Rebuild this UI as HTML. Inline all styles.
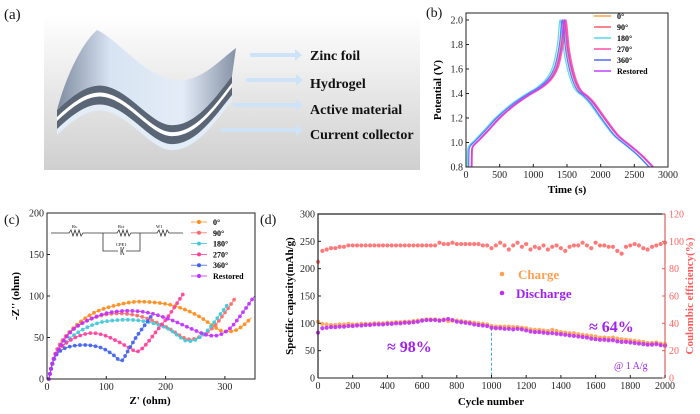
<!DOCTYPE html>
<html><head><meta charset="utf-8">
<style>
html,body{margin:0;padding:0;background:#fff;}
svg{display:block;font-family:"Liberation Serif",serif;}
.t{font-size:10px;fill:#222;}
.b{font-weight:bold;}
</style></head>
<body>
<svg id="fig" width="700" height="414" viewBox="0 0 700 414" xmlns="http://www.w3.org/2000/svg">
<defs>
<linearGradient id="bgA" x1="0" y1="0" x2="0" y2="1"><stop offset="0" stop-color="#ffffff"/><stop offset="1" stop-color="#cfcfcf"/></linearGradient>
<linearGradient id="sheet" x1="0" y1="0" x2="1" y2="0"><stop offset="0" stop-color="#7f8ca0"/><stop offset="0.3" stop-color="#d8e4f3"/><stop offset="0.7" stop-color="#e4ecf7"/><stop offset="1" stop-color="#8592a6"/></linearGradient>
</defs>

<!-- Panel a -->
<g>
<text x="4" y="19" font-size="15" fill="#111">(a)</text>
<rect x="44" y="15" width="376" height="155" fill="url(#bgA)"/>
<g>
<path d="M57 127 C75 110,90 100,105 103 C130 108,150 140,170 142 C195 144,215 115,232 93 L232 101 C215 122,195 152,170 150 C150 148,130 116,105 111 C90 108,75 118,57 135 Z" fill="#e2edf8"/>
<path d="M57 121 C75 104,90 94,105 97 C130 102,150 134,170 136 C195 138,215 109,232 87 L232 95 C215 116,195 146,170 144 C150 142,130 110,105 105 C90 102,75 112,57 129 Z" fill="#5a6576"/>
<path d="M57 117 C75 100,90 90,105 93 C130 98,150 130,170 132 C195 134,215 105,232 83 L232 87 C215 109,195 138,170 136 C150 134,130 102,105 97 C90 94,75 104,57 121 Z" fill="#ffffff"/>
<path d="M57 110 C75 93,90 83,105 86 C130 91,150 123,170 125 C195 127,215 98,232 76 L232 83 C215 105,195 134,170 132 C150 130,130 98,105 93 C90 90,75 100,57 117 Z" fill="#5a6576"/>
<path d="M57 110 C65 80,80 45,97 30 C120 40,150 85,185 80 C205 77,220 60,236 48 L232 76 C215 98,195 127,170 125 C150 123,130 91,105 86 C90 83,75 93,57 110 Z" fill="url(#sheet)"/>
</g>
<g fill="#cfe3f8">
<path d="M250 53 h45 v-4 l7 6 l-7 6 v-4 h-45 z"/>
<path d="M246 78 h50 v-4 l7 6 l-7 6 v-4 h-50 z"/>
<path d="M233 103 h63 v-4 l7 6 l-7 6 v-4 h-63 z"/>
<path d="M221 128 h75 v-4 l7 6 l-7 6 v-4 h-75 z"/>
</g>
<g font-size="14" font-weight="bold" fill="#111">
<text x="310" y="60">Zinc foil</text>
<text x="310" y="88">Hydrogel</text>
<text x="310" y="114">Active material</text>
<text x="310" y="139">Current collector</text>
</g>
</g>

<g id="pb"></g>
<g id="pc"></g>
<g id="pd"></g>
</svg>

<script>
// ---------- Panel b data ----------
const bSeries = ["0°","90°","180°","270°","360°","Restored"];
const bColors = ["#ffa040","#ff5a6a","#55d8e6","#ff4fa8","#5468ff","#c040ff"];
const bStartT = [80,85,20,90,40,80];
const bPeakT = [1450,1470,1400,1485,1430,1460];
const bEndT = [2770,2775,2715,2785,2720,2770];
const chargeFrac = [0,0.003,0.015,0.08,0.18,0.3,0.45,0.6,0.75,0.85,0.92,0.97,1];
const chargeV = [0.8,0.93,0.97,1.02,1.1,1.2,1.3,1.38,1.45,1.52,1.62,1.8,2.0];
const dischFrac = [0,0.04,0.1,0.17,0.25,0.33,0.45,0.6,0.75,0.88,1];
const dischV = [2.0,1.75,1.55,1.43,1.38,1.32,1.2,1.06,0.97,0.89,0.8];
const bXTicks = [0,500,1000,1500,2000,2500,3000];
const bYTicks = [0.8,1.0,1.2,1.4,1.6,1.8,2.0];

// ---------- Panel c data ----------
const cSeries = ["0°","90°","180°","270°","360°","Restored"];
const cColors = ["#ff8c1a","#ff6a6a","#40c8dc","#ff3f9a","#4060ee","#c030ff"];
const cX = [
 [3,15,40,80,130,165,210,250,280,295,315,330,345],
 [3,15,40,80,120,160,200,225,238,255,280,300,318],
 [3,15,40,80,120,160,200,225,235,250,270,290,305],
 [3,15,40,70,95,120,140,152,165,185,205,230],
 [3,12,30,60,90,110,125,135,150,165,175],
 [3,15,45,90,130,170,210,245,270,290,310,330,350]];
const cY = [
 [0,30,58,80,91,93,89,78,64,58,58,64,74],
 [0,33,58,74,79,75,63,52,48,50,62,80,98],
 [0,28,50,66,71,70,62,50,46,47,58,76,90],
 [0,30,47,55,53,45,37,33,40,58,76,103],
 [0,25,37,41,38,30,22,32,50,65,75],
 [0,30,60,77,82,80,71,60,53,53,62,80,100]];
const cXTicks = [0,100,200,300];
const cYTicks = [0,50,100,150,200];

// ---------- Panel d data ----------
const dCycles = [];
for (let i = 0; i <= 80; i++) dCycles.push(i * 25);
const dDischarge = [83,91,92,93, 93,94,94,95, 95,96,96,97, 97,98,98,98, 99,99,100,100,
 101,101,102,103, 105,106,106,106, 105,106,108,106, 103,102,101,100, 98,97,96,95,
 92,91,91,90, 90,89,90,89, 87,85,84,84, 83,82,82,81, 80,79,78,77, 76,75,74,72,
 71,70,70,69, 69,67,66,66, 65,64,63,62, 61,61,62,60, 59];
const dCharge = [103,99,98,97, 97,98,98,99, 98,98,99,99, 99,100,100,100, 101,101,102,102,
 103,103,104,105, 106,107,107,107, 106,107,104,105, 105,104,103,102, 101,100,99,98,
 95,94,94,94, 94,93,93,92, 91,89,88,88, 87,86,88,86, 84,83,82,82, 80,79,78,77,
 76,74,74,73, 74,72,71,70, 69,68,67,66, 64,64,65,63, 62];
const dCE = [85,93,94,95, 95,96,96,97, 97,97,97,97, 97,97,97,97, 97,97,97,97,
 97,97,97,97, 97,97,97,97, 99,98,98,99, 98,98,98,98, 98,98,97,97,
 95,97,99,97, 94,97,99,96, 98,94,96,95, 97,94,96,97, 95,93,96,97,
 97,99,97,95, 99,97,97,96, 96,93,91,96, 97,98,97,95, 94,96,97,98, 99];
const dXTicks = [0,200,400,600,800,1000,1200,1400,1600,1800,2000];
const dYTicks = [0,50,100,150,200,250,300];
const dY2Ticks = [0,20,40,60,80,100,120];

const NS = "http://www.w3.org/2000/svg";
function mk(parent, tag, attrs, text) {
  const e = document.createElementNS(NS, tag);
  for (const k in attrs) e.setAttribute(k, attrs[k]);
  if (text !== undefined) e.textContent = text;
  parent.appendChild(e);
  return e;
}
function smoothPath(pts) {
  let d = "M" + pts[0][0].toFixed(2) + " " + pts[0][1].toFixed(2);
  for (let i = 0; i < pts.length - 1; i++) {
    const p0 = pts[Math.max(0, i - 1)], p1 = pts[i], p2 = pts[i + 1], p3 = pts[Math.min(pts.length - 1, i + 2)];
    const c1 = [p1[0] + (p2[0] - p0[0]) / 6, p1[1] + (p2[1] - p0[1]) / 6];
    const c2 = [p2[0] - (p3[0] - p1[0]) / 6, p2[1] - (p3[1] - p1[1]) / 6];
    d += " C" + c1[0].toFixed(2) + " " + c1[1].toFixed(2) + "," + c2[0].toFixed(2) + " " + c2[1].toFixed(2) + "," + p2[0].toFixed(2) + " " + p2[1].toFixed(2);
  }
  return d;
}

// ===== Panel b =====
(function(){
  const g = document.getElementById("pb");
  const x0 = 466, x1 = 668, yT = 20, yB = 167;
  const xs = t => x0 + (t / 3000) * (x1 - x0);
  const ys = v => yB - (v - 0.8) / 1.2 * (yB - yT);
  let e = mk(g, "text", {x: 426, y: 17, "font-size": 14, fill: "#111"}, "(b)");
  
  
  for (let s = 0; s < bSeries.length; s++) {
    const pts = [];
    const cd = bPeakT[s] - bStartT[s];
    for (let i = 0; i < chargeFrac.length; i++) pts.push([xs(bStartT[s] + chargeFrac[i] * cd), ys(chargeV[i])]);
    const dd = bEndT[s] - bPeakT[s];
    for (let i = 1; i < dischFrac.length; i++) pts.push([xs(bPeakT[s] + dischFrac[i] * dd), ys(dischV[i])]);
    const p = mk(g, "path", {d: smoothPath(pts), fill: "none", stroke: bColors[s], "stroke-width": 1.3, opacity: 0.9});
    
    
  }
  const ax = mk(g, "rect", {x: x0, y: 13, width: x1 - x0, height: yB - 13, fill: "none", stroke: "#222", "stroke-width": 1});
  
  
  bXTicks.forEach(t => {
    mk(g, "line", {x1: xs(t), x2: xs(t), y1: yB, y2: yB - 3, stroke: "#222"});
    const tx = mk(g, "text", {x: xs(t), y: yB + 11, "text-anchor": "middle", class: "t"}, t);
    
    
  });
  bYTicks.forEach(v => {
    mk(g, "line", {x1: x0, x2: x0 + 3, y1: ys(v), y2: ys(v), stroke: "#222"});
    const tx = mk(g, "text", {x: x0 - 3, y: ys(v) + 3.5, "text-anchor": "end", class: "t"}, v.toFixed(1));
    
    
  });
  e = mk(g, "text", {x: 567, y: 193, "text-anchor": "middle", "font-size": 11, "font-weight": "bold"}, "Time (s)");
  
  
  e = mk(g, "text", {x: 0, y: 0, "text-anchor": "middle", "font-size": 11, "font-weight": "bold", transform: "translate(441,90) rotate(-90)"}, "Potential (V)");
  
  
  bSeries.forEach((n, i) => {
    const y = 16 + i * 11;
    const l = mk(g, "line", {x1: 594, x2: 611, y1: y, y2: y, stroke: bColors[i], "stroke-width": 1.5});
    
    
    const t = mk(g, "text", {x: 617, y: y + 3, "font-size": 8, "font-weight": "bold"}, (i === 0 ? " " : "") + n);
    
    
  });
})();

// ===== Panel c =====
(function(){
  const g = document.getElementById("pc");
  const x0 = 47, x1 = 255, yT = 213, yB = 379;
  const xs = z => x0 + z * 0.593;
  const ys = z => yB - z * 0.83;
  let e = mk(g, "text", {x: 4, y: 224, "font-size": 14, fill: "#111"}, "(c)");
  
  
  const clip = mk(g, "clipPath", {id: "clipc"});
  mk(clip, "rect", {x: x0, y: yT, width: x1 - x0, height: yB - yT + 4});
  const pg = mk(g, "g", {"clip-path": "url(#clipc)"});
  for (let s = 0; s < cSeries.length; s++) {
    const pts = cX[s].map((v, i) => [xs(v), ys(cY[s][i])]);
    const p = mk(pg, "path", {d: smoothPath(pts), fill: "none", stroke: cColors[s], "stroke-width": 0.8});
    
    
    const L = p.getTotalLength();
    for (let l = 0; l <= L; l += 5.2) {
      const q = p.getPointAtLength(l);
      const c = mk(pg, "circle", {cx: q.x, cy: q.y, r: 1.9, fill: cColors[s], opacity: 0.9});
      
      
    }
  }
  const ax = mk(g, "rect", {x: x0, y: yT, width: x1 - x0, height: yB - yT, fill: "none", stroke: "#222", "stroke-width": 1});
  
  
  cXTicks.forEach(t => {
    mk(g, "line", {x1: xs(t), x2: xs(t), y1: yB, y2: yB - 3, stroke: "#222"});
    const tx = mk(g, "text", {x: xs(t), y: yB + 11, "text-anchor": "middle", class: "t"}, t);
    
    
  });
  cYTicks.forEach(v => {
    mk(g, "line", {x1: x0, x2: x0 + 3, y1: ys(v), y2: ys(v), stroke: "#222"});
    const tx = mk(g, "text", {x: x0 - 3, y: ys(v) + 3.5, "text-anchor": "end", class: "t"}, v);
    
    
  });
  e = mk(g, "text", {x: 150, y: 404, "text-anchor": "middle", "font-size": 11, "font-weight": "bold"}, "Z' (ohm)");
  
  
  e = mk(g, "text", {x: 0, y: 0, "text-anchor": "middle", "font-size": 11, "font-weight": "bold", transform: "translate(19,296) rotate(-90)"}, "-Z'' (ohm)");
  
  
  const ci = mk(g, "g", {stroke: "#333", fill: "none", "stroke-width": 0.8});
  
  
  mk(ci, "path", {d: "M51 233 H69 l2 -3 l2 6 l2 -6 l2 6 l2 -6 l2 6 l2 -3 H103 M103 233 H117 l2 -3 l2 6 l2 -6 l2 6 l2 -6 l2 6 l2 -3 H140 M103 233 V251 H118 M121 247 v8 M124 247 l-2 4 l2 4 M126 251 H140 V233 M140 233 H157 l2 -3 l2 6 l2 -6 l2 6 l2 -6 l2 3 H183"});
  mk(g, "text", {x: 72, y: 228, "font-size": 4.5}, "Rs");
  mk(g, "text", {x: 118, y: 228, "font-size": 4.5}, "Rct");
  mk(g, "text", {x: 116, y: 246, "font-size": 4.5}, "CPE1");
  mk(g, "text", {x: 156, y: 228, "font-size": 4.5}, "W1");
  cSeries.forEach((n, i) => {
    const y = 222 + i * 10.8;
    mk(g, "line", {x1: 191, x2: 207, y1: y, y2: y, stroke: cColors[i], "stroke-width": 0.8});
    const c = mk(g, "circle", {cx: 199, cy: y, r: 2, fill: cColors[i]});
    
    
    const t = mk(g, "text", {x: 213, y: y + 3, "font-size": 8, "font-weight": "bold"}, (i === 0 ? " " : "") + n);
    
    
  });
})();

// ===== Panel d =====
(function(){
  const g = document.getElementById("pd");
  const x0 = 318, x1 = 665, yT = 214, yB = 378;
  const xs = c => x0 + c / 2000 * (x1 - x0);
  const ys = v => yB - v / 300 * (yB - yT);
  const ys2 = v => yB - v / 120 * (yB - yT);
  let e = mk(g, "text", {x: 260, y: 224, "font-size": 14, fill: "#111"}, "(d)");
  
  
  const pl = mk(g, "line", {x1: xs(1000), x2: xs(1000), y1: ys(92), y2: yB, stroke: "#40a8f0", "stroke-dasharray": "3,2", "stroke-width": 1});
  
  
  dCycles.forEach((c, i) => {
    let m = mk(g, "circle", {cx: xs(c), cy: ys2(dCE[i]), r: 2.1, fill: "#ff6a6a", opacity: 0.9});
    
    
    m = mk(g, "circle", {cx: xs(c), cy: ys(dCharge[i]), r: 2.1, fill: "#ffa050", opacity: 0.9});
    
    
    m = mk(g, "circle", {cx: xs(c), cy: ys(dDischarge[i]), r: 2.1, fill: "#c030f0", opacity: 0.9});
    
    
  });
  mk(g, "path", {d: `M${x0} ${yB} V${yT} H${x1}`, fill: "none", stroke: "#222", "stroke-width": 1.2});
  mk(g, "line", {x1: x0, x2: x1, y1: yB, y2: yB, stroke: "#222", "stroke-width": 1});
  const ra = mk(g, "line", {x1: x1, x2: x1, y1: yT, y2: yB, stroke: "#e06060", "stroke-width": 1.2});
  
  
  dXTicks.forEach(t => {
    mk(g, "line", {x1: xs(t), x2: xs(t), y1: yB, y2: yB - 3, stroke: "#222"});
    const tx = mk(g, "text", {x: xs(t), y: yB + 11, "text-anchor": "middle", class: "t"}, t);
    
    
  });
  dYTicks.forEach(v => {
    mk(g, "line", {x1: x0, x2: x0 + 3, y1: ys(v), y2: ys(v), stroke: "#222"});
    const tx = mk(g, "text", {x: x0 - 3, y: ys(v) + 3.5, "text-anchor": "end", class: "t"}, v);
    
    
  });
  dY2Ticks.forEach(v => {
    mk(g, "line", {x1: x1, x2: x1 - 3, y1: ys2(v), y2: ys2(v), stroke: "#e06060"});
    const tx = mk(g, "text", {x: x1 + 4, y: ys2(v) + 3.5, "font-size": 10, fill: "#ff6060"}, v);
    
    
  });
  e = mk(g, "text", {x: 491, y: 405, "text-anchor": "middle", "font-size": 11, "font-weight": "bold"}, "Cycle number");
  
  
  e = mk(g, "text", {x: 0, y: 0, "text-anchor": "middle", "font-size": 11, "font-weight": "bold", transform: "translate(293,296) rotate(-90)"}, "Specific capacity(mAh/g)");
  
  
  e = mk(g, "text", {x: 0, y: 0, "text-anchor": "middle", "font-size": 11, "font-weight": "bold", fill: "#ff5a5a", transform: "translate(693,296) rotate(-90)"}, "Coulombic efficiency(%)");
  
  
  let m = mk(g, "circle", {cx: 502, cy: 274, r: 2.3, fill: "#ffa050"});
  
  
  e = mk(g, "text", {x: 518, y: 279, "font-size": 13, "font-weight": "bold", fill: "#ffa050"}, "Charge");
  
  
  m = mk(g, "circle", {cx: 502, cy: 293, r: 2.3, fill: "#c030f0"});
  
  
  e = mk(g, "text", {x: 516, y: 298, "font-size": 13, "font-weight": "bold", fill: "#a020f0"}, "Discharge");
  
  
  e = mk(g, "text", {x: 387, y: 352, "font-size": 16, "font-weight": "bold", fill: "#a020f0"}, "≈ 98%");
  
  
  e = mk(g, "text", {x: 589, y: 332, "font-size": 16, "font-weight": "bold", fill: "#a020f0"}, "≈ 64%");
  
  
  e = mk(g, "text", {x: 614, y: 369, "font-size": 10, fill: "#a020f0"}, "@ 1 A/g");
  
  
})();
</script>
</body></html>
